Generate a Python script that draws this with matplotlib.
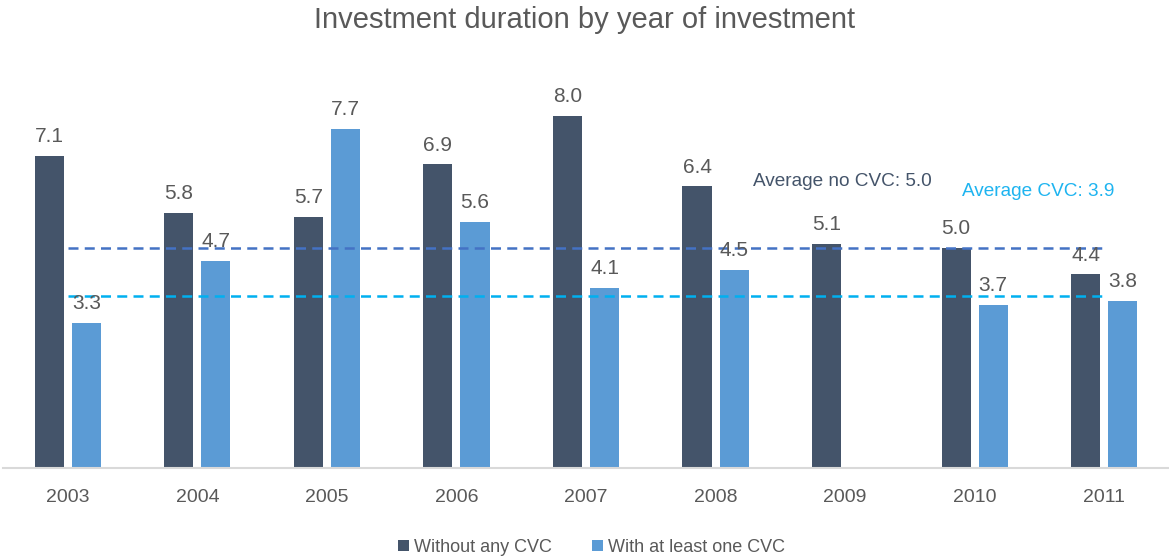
import numpy as np
import matplotlib
matplotlib.use("Agg")
import matplotlib.pyplot as plt

plt.rcParams['font.family'] = ['Liberation Sans', 'DejaVu Sans']

# data
years = ["2003", "2004", "2005", "2006", "2007", "2008", "2009", "2010", "2011"]
no_cvc = [7.1, 5.8, 5.7, 6.9, 8.0, 6.4, 5.1, 5.0, 4.4]
with_cvc = [3.3, 4.7, 7.7, 5.6, 4.1, 4.5, np.nan, 3.7, 3.8]
avg_no_cvc = 5.0
avg_cvc = 3.9
series_names = ["Without any CVC", "With at least one CVC"]

c_dark = "#44546A"
c_light = "#5B9BD5"
c_text = "#595959"

fig = plt.figure(figsize=(11.69, 5.58), dpi=100)
ax = fig.add_axes([3 / 1169, 1 - 468 / 558, 1166 / 1169, 396 / 558])

x = np.arange(len(years))
w = 0.225
off = 0.143
b1 = ax.bar(x - off, no_cvc, w, color=c_dark, label=series_names[0])
b2 = ax.bar(x + off, with_cvc, w, color=c_light, label=series_names[1])

# value labels above bars
for bars, vals in ((b1, no_cvc), (b2, with_cvc)):
    for rect, v in zip(bars, vals):
        if np.isnan(v):
            continue
        ax.annotate(f"{v:.1f}", (rect.get_x() + rect.get_width() / 2, v),
                    xytext=(0, 7), textcoords="offset points",
                    ha="center", va="bottom", fontsize=15, color=c_text)

# average lines
ax.plot([0, 8], [avg_no_cvc, avg_no_cvc], ls=(0, (4, 2.5)), lw=1.8, color="#4472C4")
ax.plot([0, 8], [avg_cvc, avg_cvc], ls=(0, (4, 2.5)), lw=1.8, color="#00B0F0")
ax.text(5.29, 6.52, f"Average no CVC: {avg_no_cvc:.1f}", color=c_dark,
        fontsize=13.7, va="center", ha="left")
ax.text(6.9, 6.28, f"Average CVC: {avg_cvc:.1f}", color="#1EB4F0",
        fontsize=13.7, va="center", ha="left")

ax.set_xlim(-0.5, 8.5)
ax.set_ylim(0, 9)
ax.set_xticks(x)
ax.set_xticklabels(years, fontsize=14, color=c_text)
ax.tick_params(axis="x", length=0, pad=15)
ax.set_yticks([])
for s in ("top", "right", "left"):
    ax.spines[s].set_visible(False)
ax.spines["bottom"].set_color("#D9D9D9")
ax.spines["bottom"].set_linewidth(1.5)

fig.suptitle("Investment duration by year of investment", fontsize=21,
             color=c_text, y=0.99, va="top")

fig.legend(loc="lower center", ncol=2, frameon=False, fontsize=13,
           handlelength=0.6, handleheight=0.6, handletextpad=0.3,
           columnspacing=2.2, labelcolor=c_text, bbox_to_anchor=(0.506, -0.025))

fig.savefig("out.png", dpi=100)
